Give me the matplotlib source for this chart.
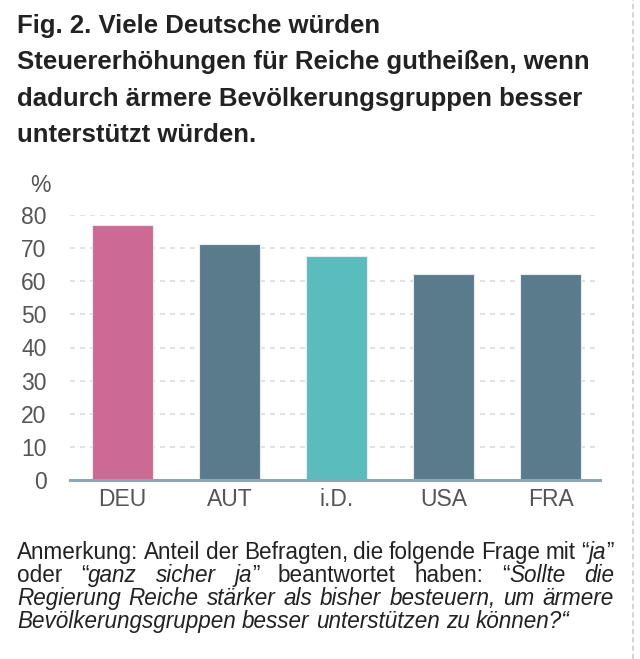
import numpy as np
import matplotlib
matplotlib.use("Agg")
import matplotlib.pyplot as plt
from matplotlib.lines import Line2D

plt.rcParams['font.family'] = ['Liberation Sans', 'DejaVu Sans']

# Daten
laender = ["DEU", "AUT", "i.D.", "USA", "FRA"]
anteil = [77.0, 71.3, 67.6, 62.1, 62.1]
farben = ["#CC6A93", "#5A7B8B", "#5BBCBD", "#5A7B8B", "#5A7B8B"]
yticks = [0, 10, 20, 30, 40, 50, 60, 70, 80]

titel = ["Fig. 2. Viele Deutsche würden",
         "Steuererhöhungen für Reiche gutheißen, wenn",
         "dadurch ärmere Bevölkerungsgruppen besser",
         "unterstützt würden."]

# Anmerkung: Zeilen aus Wörtern, jedes Wort aus (Text, kursiv)-Stücken
N, I = False, True
anmerkung = [
    [[("Anmerkung:", N)], [("Anteil", N)], [("der", N)], [("Befragten,", N)],
     [("die", N)], [("folgende", N)], [("Frage", N)], [("mit", N)],
     [("“", N), ("ja", I), ("”", N)]],
    [[("oder", N)], [("“", N), ("ganz", I)], [("sicher", I)], [("ja", I), ("”", N)],
     [("beantwortet", N)], [("haben:", N)], [("“", N), ("Sollte", I)], [("die", I)]],
    [[(w, I)] for w in "Regierung Reiche stärker als bisher besteuern, um ärmere".split()],
    [[(w, I)] for w in "Bevölkerungsgruppen besser unterstützen zu können?“".split()],
]

W, H = 640, 659
fig = plt.figure(figsize=(W / 100, H / 100), dpi=100)
renderer = fig.canvas.get_renderer()

def px(x, y):
    return x / W, 1 - y / H

def breite(t, gr, kursiv=False, fett=False):
    tx = fig.text(0, 0, t, fontsize=gr, style="italic" if kursiv else "normal",
                  fontweight="bold" if fett else "normal")
    b = tx.get_window_extent(renderer).width
    tx.remove()
    return b

# Titel: Größe so, dass die längste Zeile ~573 px breit ist
tgr = 20 * 573 / breite(titel[1], 20, fett=True)
for i, zeile in enumerate(titel):
    fig.text(*px(17, 33 + i * 36.5), zeile, fontsize=tgr, fontweight="bold",
             color="#222222", ha="left", va="baseline")

# Diagramm
ax = fig.add_axes([70 / W, 1 - 480 / H, 530 / W, 265 / H])
x = np.arange(len(laender))
ax.bar(x, anteil, width=0.57, color=farben, edgecolor="#e6ecf0", linewidth=0.8, zorder=3)
ax.set_xlim(-0.49, 4.46)
ax.set_ylim(0, 80)
ax.set_yticks(yticks)
ax.set_xticks(x)
ax.set_xticklabels(laender)
ax.tick_params(axis="both", length=0, labelsize=16.5, labelcolor="#555555")
ax.tick_params(axis="y", pad=17)
ax.tick_params(axis="x", pad=6)
for yv in yticks[1:]:
    ax.axhline(yv, color="#dddddd", lw=1.2, ls=(0, (3, 3)), zorder=1)
for s in ["top", "right", "left"]:
    ax.spines[s].set_visible(False)
ax.spines["bottom"].set_color("#8fa5b8")
ax.spines["bottom"].set_linewidth(2.2)
ax.spines["bottom"].set_zorder(4)
fig.text(*px(40, 192), "%", fontsize=16.5, color="#555555", ha="center", va="baseline")

# gestrichelte Linie rechts
fig.add_artist(Line2D([633 / W, 633 / W], [0, 1], color="#cccccc", lw=1.2,
                      ls=(0, (3, 2))))

# Anmerkung im Blocksatz
links, rechts = 17, 614
zeile3 = " ".join(t for wort in anmerkung[2] for t, k in wort)
gr = 14 * 588 / breite(zeile3, 14, kursiv=True)

for i, zeile in enumerate(anmerkung):
    y = 559 + i * 23
    wb = [sum(breite(t, gr, k) for t, k in wort) for wort in zeile]
    if i < len(anmerkung) - 1:
        abstand = (rechts - links - sum(wb)) / (len(zeile) - 1)
    else:
        abstand = breite(" ", gr)
    xp = links
    for wort, b in zip(zeile, wb):
        xs = xp
        for t, k in wort:
            fig.text(*px(xs, y), t, fontsize=gr, style="italic" if k else "normal",
                     color="#222222", ha="left", va="baseline")
            xs += breite(t, gr, k)
        xp += b + abstand

fig.savefig("out.png", dpi=100)
